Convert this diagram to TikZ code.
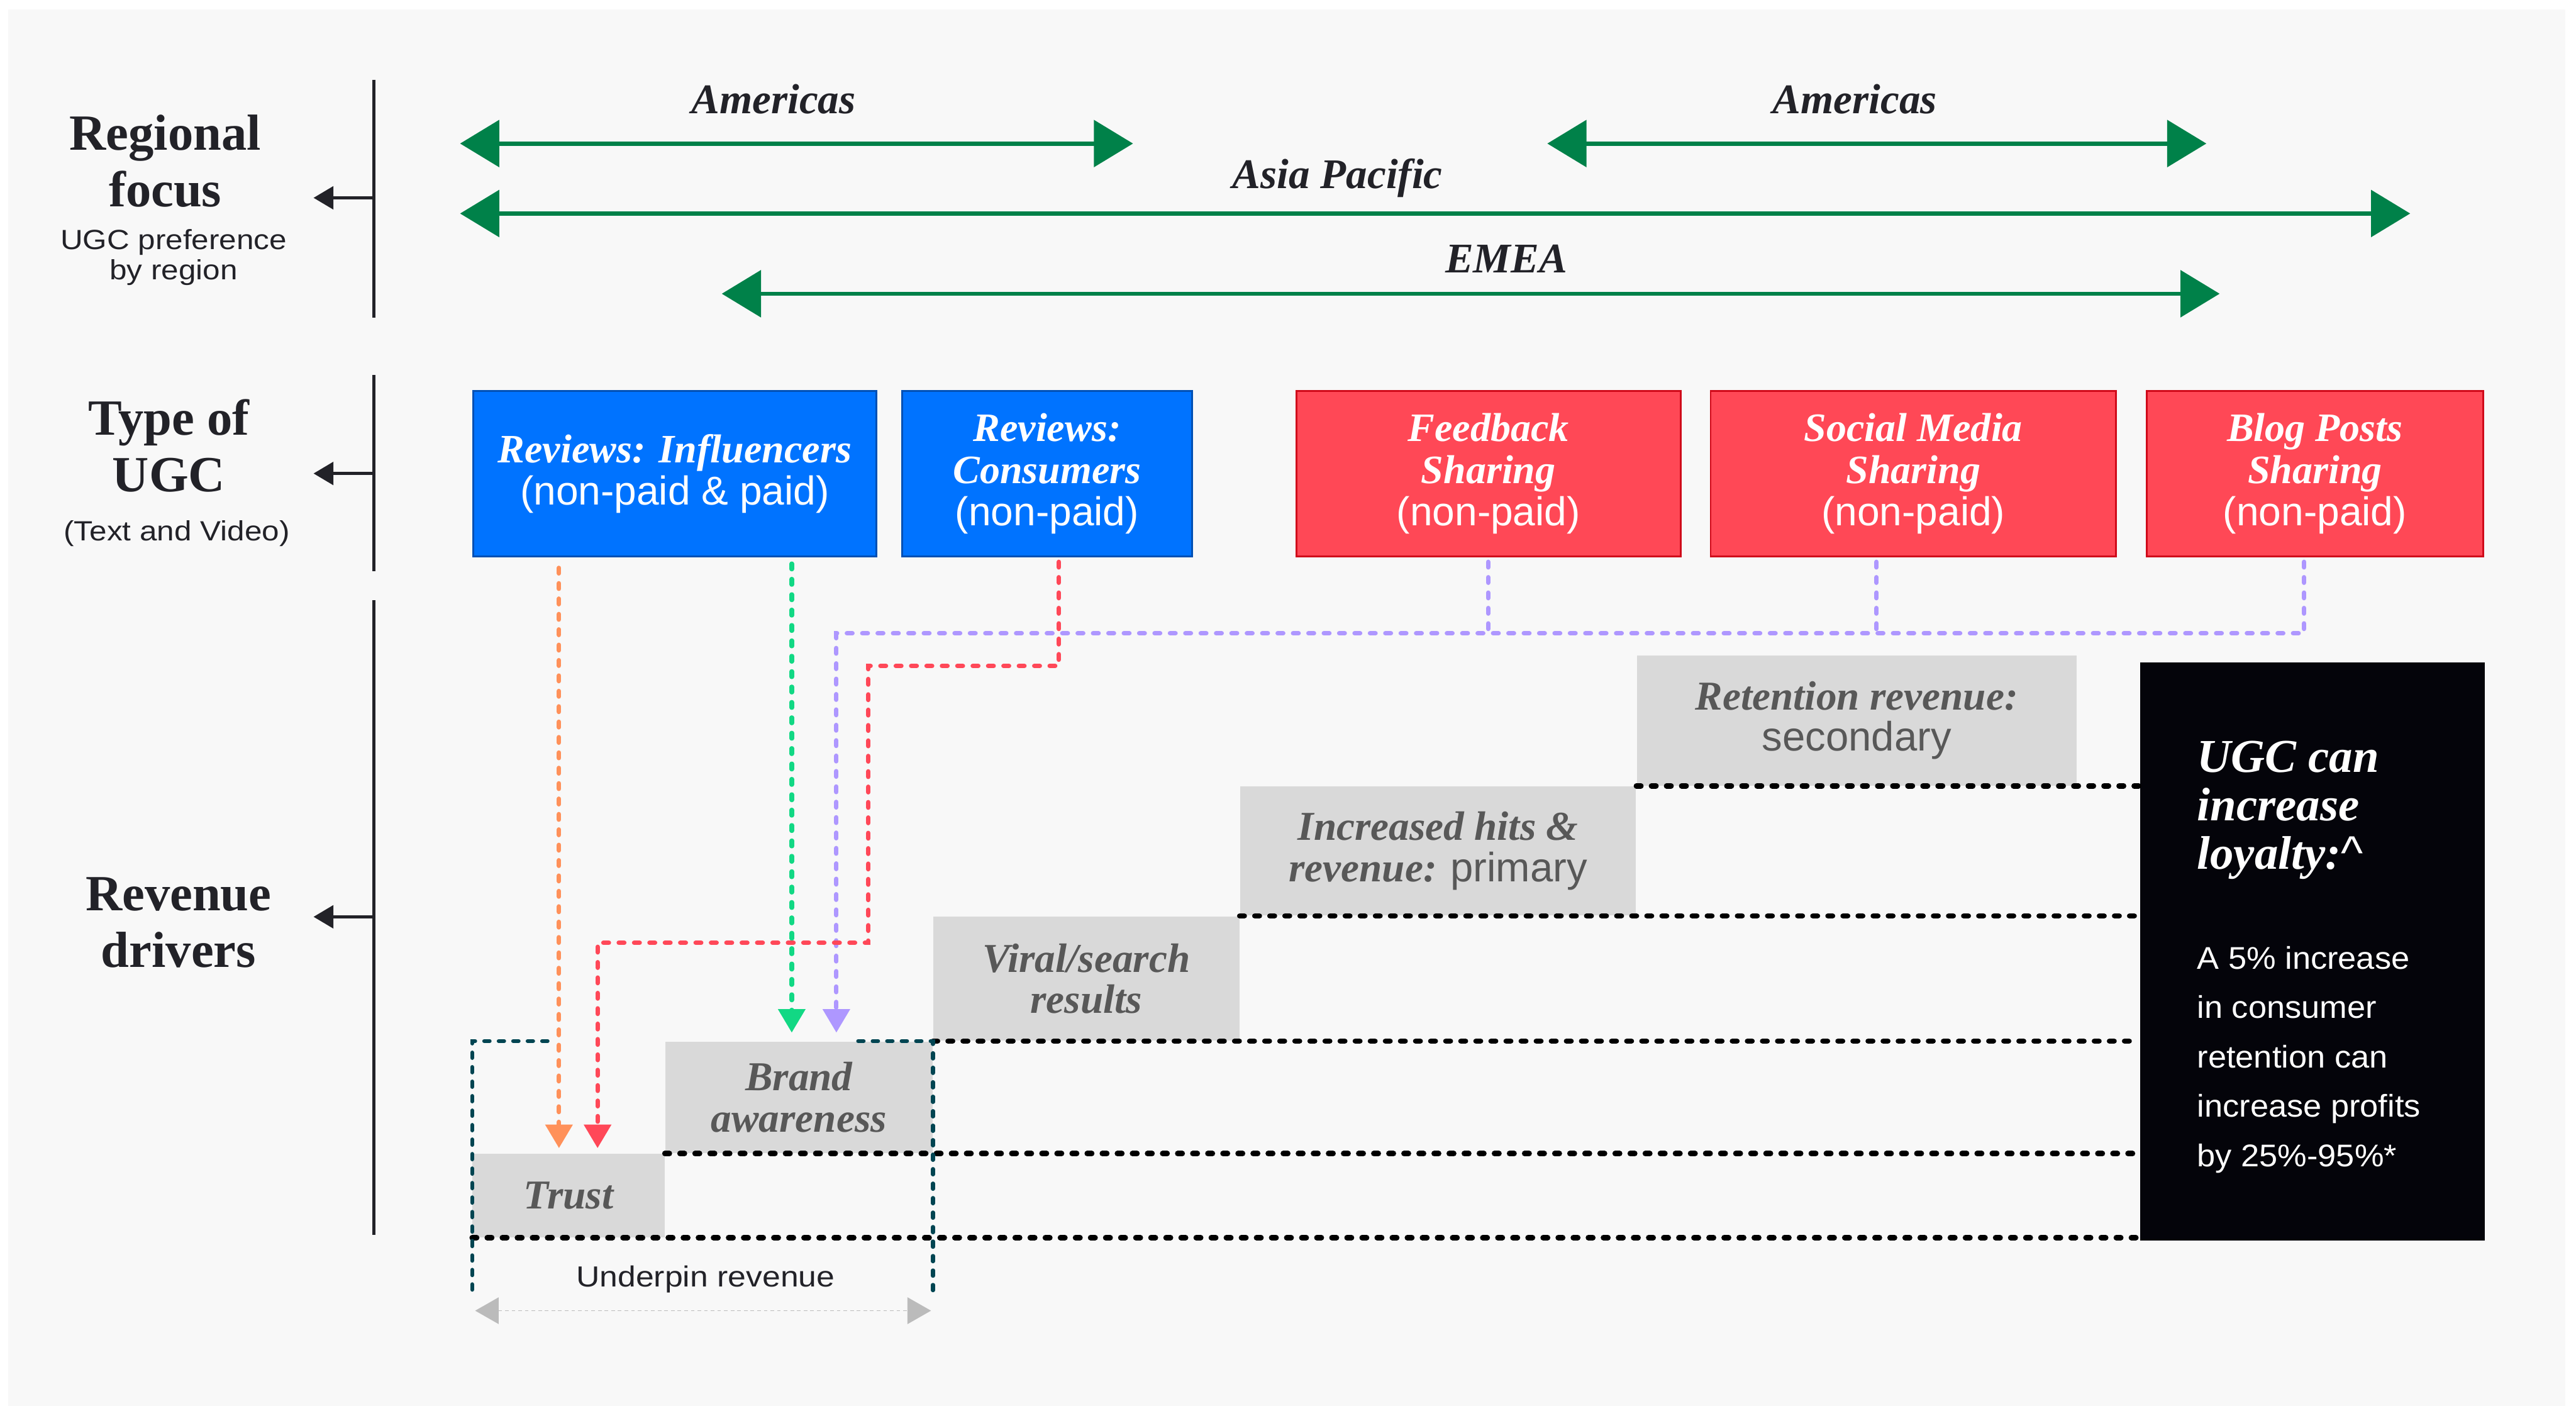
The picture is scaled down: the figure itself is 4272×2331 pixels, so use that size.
\documentclass[tikz,border=0pt]{standalone}
\usepackage{fontspec}
\setmainfont{Liberation Serif}
\setsansfont{Liberation Sans}
\newfontfamily\widesans[FakeStretch=1.12]{Liberation Sans}
\newfontfamily\bodysans[FakeStretch=1.05]{Liberation Sans}
\usetikzlibrary{arrows.meta,positioning}

\definecolor{bggray}{HTML}{F8F8F8}
\definecolor{ink}{HTML}{222228}
\definecolor{regiongreen}{HTML}{008149}
\definecolor{ugcblue}{HTML}{0073FF}
\definecolor{ugcblueline}{HTML}{0050B4}
\definecolor{ugcred}{HTML}{FF4856}
\definecolor{ugcredline}{HTML}{D00A1A}
\definecolor{stepgray}{HTML}{D9D9D9}
\definecolor{steptext}{HTML}{585858}
\definecolor{loyalblack}{HTML}{04040A}
\definecolor{bracketteal}{HTML}{004552}
\definecolor{floworange}{HTML}{FF915A}
\definecolor{flowgreen}{HTML}{12D884}
\definecolor{flowred}{HTML}{FF4858}
\definecolor{flowpurple}{HTML}{AE97FF}
\definecolor{spangray}{HTML}{BBBBBB}

\newcommand{\plainpart}[1]{{\sffamily\mdseries\upshape #1}}

\begin{document}
\begin{tikzpicture}[x=0.01cm, y=-0.01cm]
    \tikzstyle{sidehead} = [inner sep=0pt, align=center, text=ink, font=\fontsize{23.9pt}{26.7pt}\selectfont\bfseries]
    \tikzstyle{sidesub} = [inner sep=0pt, align=center, text=ink, font=\widesans\fontsize{13.1pt}{14.2pt}\selectfont]
    \tikzstyle{sectionline} = [line width=0.045cm, draw=ink]
    \tikzstyle{sectionarrow} = [sectionline, -{Triangle[length=0.33cm,width=0.38cm]}]
    \tikzstyle{regionbar} = [line width=0.07cm, draw=regiongreen, {Triangle[length=0.65cm,width=0.77cm]}-{Triangle[length=0.65cm,width=0.77cm]}]
    \tikzstyle{regionlabel} = [anchor=base, inner sep=0pt, text=ink, font=\fontsize{19.9pt}{19.9pt}\selectfont\bfseries\itshape]
    \tikzstyle{ugcbox} = [rectangle, draw, line width=0.03cm, minimum height=2.74cm, inner sep=0pt, text=white, align=center, font=\fontsize{19pt}{19.9pt}\selectfont\bfseries\itshape]
    \tikzstyle{bluebox} = [ugcbox, fill=ugcblue, draw=ugcblueline]
    \tikzstyle{redbox} = [ugcbox, fill=ugcred, draw=ugcredline]
    \tikzstyle{stepbox} = [rectangle, fill=stepgray, inner sep=0pt, text=steptext, align=center, anchor=south west, font=\fontsize{19.35pt}{19.35pt}\selectfont\bfseries\itshape]
    \tikzstyle{flowline} = [line width=0.075cm, line cap=round, dash pattern=on 0.09cm off 0.165cm, -{Triangle[length=0.39cm,width=0.44cm]}]
    \tikzstyle{dotrule} = [line width=0.09cm, line cap=round, dash pattern=on 0.075cm off 0.175cm, draw=black]
    \tikzstyle{underpinline} = [line width=0.065cm, line cap=round, dash pattern=on 0.09cm off 0.15cm, draw=bracketteal]
    \tikzstyle{spanarrow} = [line width=0.02cm, dash pattern=on 0.06cm off 0.05cm, draw=spangray, {Triangle[length=0.39cm,width=0.44cm]}-{Triangle[length=0.39cm,width=0.44cm]}]

    % Page and background
    \useasboundingbox (0,0) rectangle (4272,2331);
    \fill[white] (0,0) rectangle (4272,2331);
    \fill[bggray] (14,16) rectangle (4254,2331);

    % Row labels on the left
    \node[sidehead] (regfocus) at (274,267) {Regional\\focus};
    \node[sidesub] (regsub) at (288,427) {UGC preference\\by region};
    \node[sidehead] (typeugc) at (280,739) {Type of\\UGC};
    \node[sidesub] (typesub) at (293,884) {(Text and Video)};
    \node[sidehead] (revdrivers) at (296,1530) {Revenue\\drivers};

    % Row dividers with their arrows
    \foreach \ya/\yb/\ym in {132/527/328, 622/947/785, 995/2047/1520} {
        \draw[sectionline] (620,\ya) -- (620,\yb);
        \draw[sectionarrow] (620,\ym) -- (520,\ym);
    }

    % Regional ranges
    \foreach \xw/\xe/\y/\xt/\yt/\lbl [count=\i] in {763/1879/238/1283/188/Americas, 2566/3659/238/3076/188/Americas, 763/3997/354/2218/312/Asia Pacific, 1197/3681/487/2498/452/EMEA} {
        \draw[regionbar] (\xw,\y) -- (\xe,\y);
        \node[regionlabel] (region\i) at (\xt,\yt) {\lbl};
    }

    % Types of UGC
    \node[bluebox, minimum width=6.68cm] (infl) at (1119,785) {Reviews: Influencers\\\plainpart{(non-paid \& paid)}};
    \node[bluebox, minimum width=4.81cm] (cons) at (1736.5,785) {Reviews:\\Consumers\\\plainpart{(non-paid)}};
    \node[redbox, minimum width=6.37cm] (feed) at (2468.5,785) {Feedback\\Sharing\\\plainpart{(non-paid)}};
    \node[redbox, minimum width=6.72cm] (social) at (3173,785) {Social Media\\Sharing\\\plainpart{(non-paid)}};
    \node[redbox, minimum width=5.58cm] (blog) at (3839,785) {Blog Posts\\Sharing\\\plainpart{(non-paid)}};

    % Revenue drivers, as a staircase
    \node[stepbox, minimum width=3.18cm, minimum height=1.38cm] (trust) at (783,2052) {Trust};
    \node[stepbox, minimum width=4.43cm, minimum height=1.85cm] (brand) at (trust.north east) {Brand\\awareness};
    \node[stepbox, minimum width=5.07cm, minimum height=2.06cm] (viral) at (brand.north east) {Viral/search\\results};
    \node[stepbox, minimum width=6.56cm, minimum height=2.14cm] (hits) at (viral.north east) {Increased hits \&\\revenue: \plainpart{primary}};
    \node[stepbox, minimum width=7.29cm, minimum height=2.15cm] (retention) at (hits.north east) {Retention revenue:\\\plainpart{secondary}};

    % Loyalty panel
    \node[fill=loyalblack, minimum width=5.72cm, minimum height=9.58cm, inner sep=0pt] (loyal) at (3835,1577) {};
    \node[anchor=north west, inner sep=0pt, align=left, text=white, font=\fontsize{22.2pt}{22.8pt}\selectfont\bfseries\itshape] (loyalhead) at (3643,1228) {UGC can\\increase\\loyalty:\plainpart{\textasciicircum}};
    \node[anchor=north west, inner sep=0pt, align=left, text=white, font=\bodysans\fontsize{14.8pt}{23.3pt}\selectfont] (loyalbody) at (3643,1568) {A 5\% increase\\in consumer\\retention can\\increase profits\\by 25\%-95\%*};

    % Dotted level lines
    \foreach \s in {trust,brand,viral,hits,retention} {
        \draw[dotrule] (\s.south west) -- (\s.south west -| loyal.west);
    }

    % Underpin bracket
    \coordinate (brkl) at (trust.west |- brand.north);
    \coordinate (brkr) at (brand.north east);
    \draw[underpinline] ([xshift=1.25cm]brkl) -- (brkl) -- ++(0,425);
    \draw[underpinline] ([xshift=-1.24cm]brkr) -- (brkr) -- ++(0,425);
    \node[anchor=base, inner sep=0pt, text=ink, font=\widesans\fontsize{13.7pt}{13.7pt}\selectfont] (underpin) at (1170,2133) {Underpin revenue};
    \coordinate (spanl) at (788,2173);
    \coordinate (spanr) at (1544,2173);
    \draw[spanarrow] (spanl) -- (spanr);

    % Flows from UGC types to drivers
    \coordinate (xo) at (927,0);
    \coordinate (xg) at (1313,0);
    \coordinate (r1) at (1756,1104);
    \coordinate (r2) at (1440,1563);
    \coordinate (r3) at (991,1563);
    \coordinate (pbus) at (1387,1050);
    \coordinate (xfeed) at (2468,0);
    \coordinate (xsocial) at (3112,0);
    \coordinate (xblog) at (3821,0);

    \draw[flowline, floworange, shorten <=0.18cm, shorten >=0.09cm] (infl.south -| xo) -- (trust.north -| xo);
    \draw[flowline, flowgreen, shorten <=0.11cm, shorten >=0.14cm] (infl.south -| xg) -- (brand.north -| xg);
    \foreach \n/\c in {feed/xfeed, social/xsocial} {
        \draw[flowline, flowpurple, -, shorten <=0.08cm] (\n.south -| \c) -- (\c |- pbus);
    }
    \draw[flowline, flowpurple, shorten <=0.08cm, shorten >=0.14cm] (blog.south -| xblog) -- (xblog |- pbus) -- (pbus) -- (brand.north -| pbus);
    \draw[flowline, flowred, shorten <=0.08cm, shorten >=0.09cm] (cons.south -| r1) -- (r1) -- (r1 -| r2) -- (r2) -- (r3) -- (trust.north -| r3);
\end{tikzpicture}
\end{document}
